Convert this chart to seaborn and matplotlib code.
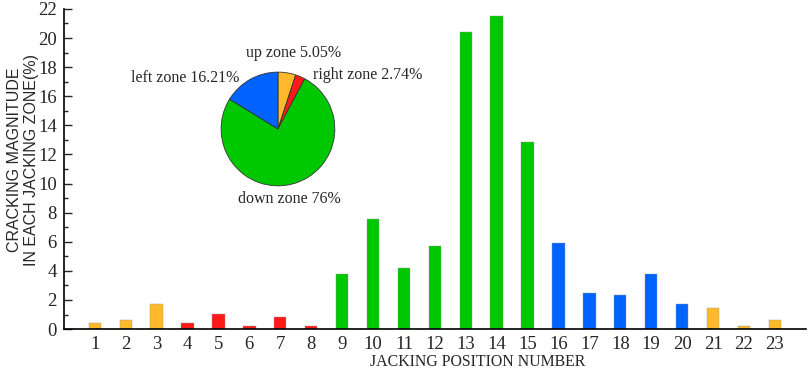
import seaborn as sns
import matplotlib.pyplot as plt
import pandas as pd
from matplotlib.ticker import MultipleLocator

# bar data
positions = list(range(1, 24))
magnitude = [0.43, 0.64, 1.72, 0.43, 1.07, 0.2, 0.84, 0.2, 3.8, 7.58, 4.21, 5.7,
             20.44, 21.52, 12.86, 5.9, 2.51, 2.33, 3.8, 1.72, 1.46, 0.2, 0.64]
zone = ['up'] * 3 + ['right'] * 5 + ['down'] * 7 + ['left'] * 5 + ['up'] * 3

# pie data
pie_labels = ['up zone 5.05%', 'right zone 2.74%', 'down zone 76%', 'left zone 16.21%']
pie_values = [5.05, 2.74, 76.0, 16.21]

colors = {'up': '#FFB92B', 'right': '#FF1A1A', 'down': '#00C800', 'left': '#0062FF'}

df = pd.DataFrame({'pos': positions, 'mag': magnitude, 'zone': zone})

sns.set_style('ticks')
plt.rcParams['font.family'] = ['Liberation Serif', 'DejaVu Serif']

fig = plt.figure(figsize=(8.09, 3.71), dpi=100)
ax = fig.add_axes([0.079, 0.113, 0.917, 0.863])

sns.barplot(data=df, x='pos', y='mag', hue='zone', palette=colors, dodge=False,
            width=0.4, native_scale=True, legend=False, ax=ax, saturation=1,
            edgecolor='#999999', linewidth=0.3)

ax.set_xlim(0, 24)
ax.set_ylim(0, 22)
ax.set_xticks(positions)
ax.set_xticklabels([str(p) for p in positions])
ax.yaxis.set_major_locator(MultipleLocator(2))
ax.yaxis.set_minor_locator(MultipleLocator(1))
ax.tick_params(axis='x', length=0, labelsize=13.5, pad=5)
ax.tick_params(axis='y', which='major', length=6, width=1, labelsize=13.5,
               direction='in', pad=5)
ax.tick_params(axis='y', which='minor', length=3, width=1, direction='in')
for s in ['top', 'right']:
    ax.spines[s].set_visible(False)
for s in ['left', 'bottom']:
    ax.spines[s].set_linewidth(1.2)
    ax.spines[s].set_color('black')

ax.set_xlabel('JACKING POSITION NUMBER', fontsize=11.4, va='center')
ax.xaxis.set_label_coords((478 - 64) / 742, -0.103)
ax.set_ylabel('CRACKING MAGNITUDE\nIN EACH JACKING ZONE(%)', fontsize=11.5,
              family=['Liberation Sans', 'DejaVu Sans'], linespacing=1.15, va='center')
ax.yaxis.set_label_coords(-0.055, 0.528)

# inset pie
pax = fig.add_axes([0.3436 - 0.0717, 0.6523 - 0.1563, 0.1434, 0.3127])
pax.pie(pie_values, colors=[colors['up'], colors['right'], colors['down'], colors['left']],
        startangle=90, counterclock=False, radius=1,
        wedgeprops=dict(edgecolor='#333333', linewidth=0.6))
pax.set_xlim(-1.02, 1.02)
pax.set_ylim(-1.02, 1.02)
pax.set_aspect('equal')
pax.axis('off')

fs = 11.5
pax.text(0.28, 1.33, pie_labels[0], ha='center', va='center', fontsize=fs, clip_on=False)
pax.text(0.62, 0.95, pie_labels[1], ha='left', va='center', fontsize=fs, clip_on=False)
pax.text(0.2, -1.24, pie_labels[2], ha='center', va='center', fontsize=fs, clip_on=False)
pax.text(-0.67, 0.9, pie_labels[3], ha='right', va='center', fontsize=fs, clip_on=False)

fig.savefig('out.png', dpi=100)
